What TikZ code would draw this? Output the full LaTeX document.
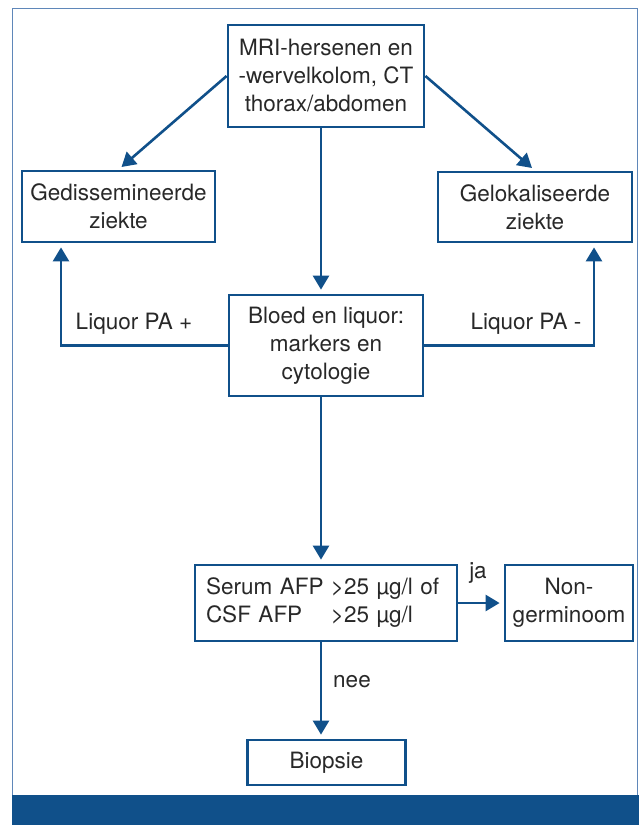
\documentclass[tikz,border=0pt]{standalone}
\usepackage{fontspec}
\setmainfont{TeX Gyre Heros}
\usetikzlibrary{calc}
\usetikzlibrary{arrows.meta}
\definecolor{flowblue}{RGB}{16,80,138}
\definecolor{frameblue}{RGB}{95,135,185}
\definecolor{flowtext}{RGB}{40,40,40}

\begin{document}
\begin{tikzpicture}[x=1pt, y=-1pt,
  box/.style={draw=flowblue, line width=2.8pt, text=flowtext, align=center, inner sep=0pt, font=\fontsize{22.5}{28}\selectfont},
  link/.style={draw=flowblue, line width=2.6pt, -{Triangle[length=14pt,width=16pt]}, shorten >=4pt},
  lbl/.style={text=flowtext, font=\fontsize{22.5}{28}\selectfont}]

\useasboundingbox (0,0) rectangle (639,825);

% Frame
\draw[frameblue, line width=1pt] (12,8) rectangle (637,795);
\fill[flowblue] (12,795) rectangle (639,825);

% Boxes
\node[box, minimum width=196pt, minimum height=102pt] (scan) at (326,76) {MRI-hersenen en\\-wervelkolom, CT\\thorax/abdomen};
\node[box, minimum width=193pt, minimum height=71pt] (spread) at (118.5,206.5) {Gedissemineerde\\ziekte};
\node[box, minimum width=194pt, minimum height=70pt] (local) at (535,207) {Gelokaliseerde\\ziekte};
\node[box, minimum width=194pt, minimum height=101pt] (lab) at (326,345.5) {Bloed en liquor:\\markers en\\cytologie};
\node[box, minimum width=262pt, minimum height=76pt, text width=240pt, align=left] (afp) at (326,603) {\makebox[125pt][l]{Serum AFP}>25 µg/l of\\\makebox[125pt][l]{CSF AFP}>25 µg/l};
\node[box, minimum width=128pt, minimum height=76pt] (nongerm) at (569,603) {Non-\\germinoom};
\node[box, minimum width=158pt, minimum height=45pt] (biopsy) at (326.5,762.5) {Biopsie};

% Connectors
\coordinate (spine) at (321,0);
\coordinate (pluscol) at (61,0);
\coordinate (mincol) at (594,0);
\draw[link] (scan.west) -- (spread.north);
\draw[link] (scan.east) -- (local.north);
\draw[link] (scan.south -| spine) -- (lab.north -| spine);
\draw[link] (lab.west) -| (spread.south -| pluscol);
\draw[link] (lab.east) -| (local.south -| mincol);
\draw[link] (lab.south -| spine) -- (afp.north -| spine);
\draw[link] (afp.east) -- (nongerm.west);
\draw[link] (afp.south -| spine) -- (biopsy.north -| spine);

% Labels
\node[lbl] (pluslbl) at (134,324) {Liquor PA +};
\node[lbl] (minlbl) at (526,324) {Liquor PA -};
\node[lbl] (yes) at (478,573) {ja};
\node[lbl] (no) at (352,682) {nee};

\end{tikzpicture}
\end{document}
